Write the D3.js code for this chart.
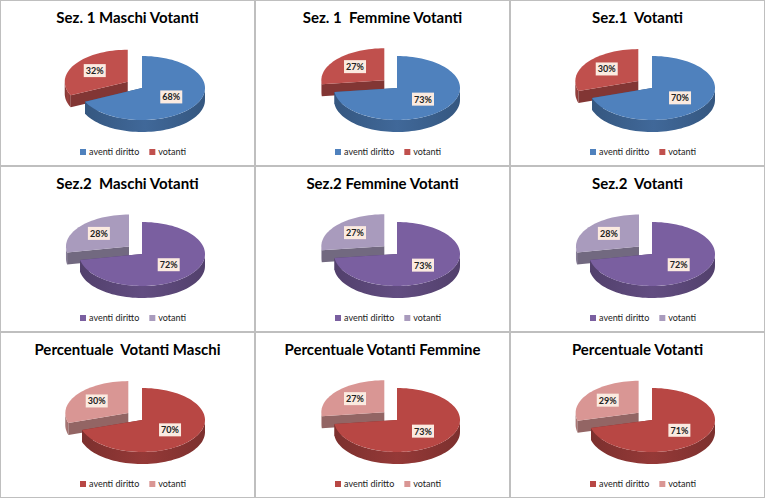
<!DOCTYPE html>
<html><head><meta charset="utf-8">
<script src="https://cdn.jsdelivr.net/npm/d3@7"></script>
<style>body{margin:0;background:#fff}</style>
</head><body>
<script>
var titles = ["Sez. 1 Maschi Votanti", "Sez. 1  Femmine Votanti", "Sez.1  Votanti",
              "Sez.2  Maschi Votanti", "Sez.2 Femmine Votanti", "Sez.2  Votanti",
              "Percentuale  Votanti Maschi", "Percentuale Votanti Femmine", "Percentuale Votanti"];
var aventi = [68, 73, 70, 72, 73, 72, 70, 73, 71];
var votanti = [32, 27, 30, 28, 27, 28, 30, 27, 29];
var categories = ["aventi diritto", "votanti"];
var rowColors = [["#4F81BD", "#C0504D"], ["#7A5FA0", "#A99BBD"], ["#B84744", "#D99694"]];

var W = 765, H = 499, cw = 255, ch = 166;
var svg = d3.select("body").append("svg").attr("width", W).attr("height", H);
svg.append("rect").attr("width", W).attr("height", H).attr("fill", "#fff");

var rx = 63, ry = 32, depth = 12, explode = 13;
var pie = d3.pie().sort(null).startAngle(0).endAngle(2 * Math.PI);

function pt(cx, cy, a, r, dy) {
  return [cx + r * rx * Math.sin(a), cy - r * ry * Math.cos(a) + (dy || 0)];
}
function arcPts(cx, cy, a0, a1, dy) {
  var n = Math.max(2, Math.ceil((a1 - a0) / 0.05)), p = [];
  for (var i = 0; i <= n; i++) p.push(pt(cx, cy, a0 + (a1 - a0) * i / n, 1, dy));
  return p;
}
var line = d3.line();

titles.forEach(function(t, i) {
  var col = i % 3, row = Math.floor(i / 3);
  var g = svg.append("g").attr("transform", "translate(" + (col * cw) + "," + (row * ch) + ")");
  g.append("rect").attr("x", 0.5).attr("y", 0.5).attr("width", cw - 1).attr("height", ch - 1)
    .attr("fill", "#fff").attr("stroke", "#bfbfbf");
  g.append("text").attr("x", cw / 2).attr("y", 23).attr("text-anchor", "middle")
    .attr("font-family", "Lato, sans-serif").attr("font-weight", "bold")
    .attr("font-size", 15).attr("fill", "#000").attr("xml:space", "preserve").text(t);

  var cols = rowColors[row];
  var vals = [aventi[i], votanti[i]];
  var arcs = pie(vals);
  var cx0 = 142, cy0 = 88;
  [1, 0].forEach(function(k) {
    var a = arcs[k], a0 = a.startAngle, a1 = a.endAngle;
    var mid = (a0 + a1) / 2;
    var off = k === 1 ? explode : 0;
    var cx = cx0 + off * 1.3 * Math.sin(mid), cy = cy0 - off * 0.9 * Math.cos(mid);
    var c = d3.color(cols[k]), dark = c.darker(1.1), side = c.darker(0.6);
    [a0, a1].forEach(function(ang) {
      var p = pt(cx, cy, ang, 1);
      g.append("path").attr("d", line([[cx, cy], p, [p[0], p[1] + depth], [cx, cy + depth]]) + "Z")
        .attr("fill", dark);
    });
    var s = Math.max(a0, Math.PI / 2), e = Math.min(a1, 3 * Math.PI / 2);
    if (e > s) {
      var top = arcPts(cx, cy, s, e, 0), bot = arcPts(cx, cy, s, e, depth).reverse();
      var gid = "g" + i + k;
      var grad = g.append("linearGradient").attr("id", gid).attr("x1", "0").attr("x2", "1");
      grad.append("stop").attr("offset", "0").attr("stop-color", dark);
      grad.append("stop").attr("offset", "0.5").attr("stop-color", side);
      grad.append("stop").attr("offset", "1").attr("stop-color", dark);
      g.append("path").attr("d", line(top.concat(bot)) + "Z").attr("fill", "url(#" + gid + ")");
    }
    g.append("path").attr("d", line([[cx, cy]].concat(arcPts(cx, cy, a0, a1, 0))) + "Z")
      .attr("fill", cols[k]);
    var lp = pt(cx, cy, mid, k === 1 ? 0.62 : 0.55);
    g.append("rect").attr("x", lp[0] - 11).attr("y", lp[1] - 7).attr("width", 22).attr("height", 13)
      .attr("fill", "#FBEAE0");
    g.append("text").attr("x", lp[0]).attr("y", lp[1] + 3).attr("text-anchor", "middle")
      .attr("font-family", "Lato, sans-serif").attr("font-weight", "bold").attr("font-size", 9)
      .attr("fill", "#222").text(Math.round(vals[k]) + "%");
  });

  var lg = g.append("g").attr("transform", "translate(80,155)");
  var lx = 0;
  categories.forEach(function(cname, k) {
    lg.append("rect").attr("x", lx).attr("y", -6).attr("width", 6).attr("height", 6).attr("fill", cols[k]);
    var tx = lg.append("text").attr("x", lx + 9).attr("y", 0).attr("font-family", "Lato, sans-serif")
      .attr("font-size", 9).attr("fill", "#222").text(cname);
    lx += 9 + tx.node().getComputedTextLength() + 10;
  });
});
</script>
</body></html>
